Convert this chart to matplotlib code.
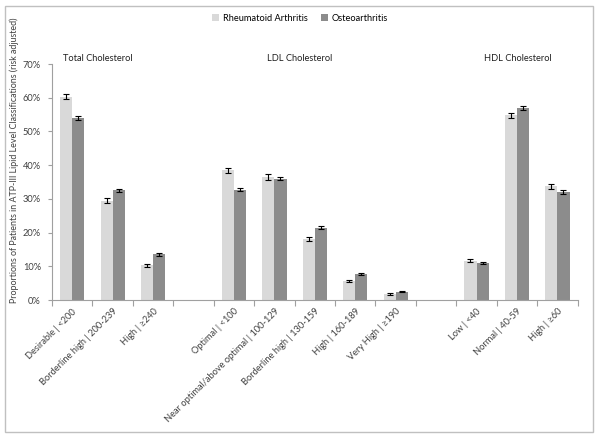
import matplotlib
matplotlib.use("Agg")
import matplotlib.pyplot as plt
import numpy as np
from matplotlib.patches import Rectangle

categories = ["Desirable | <200", "Borderline high | 200-239", "High | ≥240", "",
              "Optimal | <100", "Near optimal/above optimal | 100-129",
              "Borderline high | 130-159", "High | 160-189", "Very High | ≥190", "",
              "Low | <40", "Normal | 40-59", "High | ≥60"]
ra = [60.3, 29.5, 10.3, np.nan, 38.5, 36.5, 18.0, 5.6, 1.8, np.nan, 11.7, 54.8, 33.7]
oa = [54.0, 32.5, 13.6, np.nan, 32.7, 36.0, 21.5, 7.6, 2.5, np.nan, 11.0, 57.0, 32.0]
ra_err = [0.8, 0.7, 0.5, 0, 0.7, 0.8, 0.6, 0.4, 0.3, 0, 0.5, 0.8, 0.7]
oa_err = [0.5, 0.5, 0.4, 0, 0.5, 0.5, 0.5, 0.3, 0.2, 0, 0.4, 0.5, 0.5]
groups = ["Total Cholesterol", "LDL Cholesterol", "HDL Cholesterol"]
group_pos = [0.64, 5.63, 11.02]

plt.rcParams["font.family"] = ["Lato", "DejaVu Sans"]
fs = 6.7
fig = plt.figure(figsize=(6, 4.37), dpi=100)
ax = fig.add_axes([0.0867, 0.3135, 0.876, 0.54])

x = np.arange(len(categories))
w = 0.3
ek = dict(ecolor="black", elinewidth=0.8, capsize=2, capthick=0.8)
ax.bar(x - w / 2, ra, w, yerr=ra_err, color="#d9d9d9", label="Rheumatoid Arthritis", error_kw=ek)
ax.bar(x + w / 2, oa, w, yerr=oa_err, color="#8c8c8c", label="Osteoarthritis", error_kw=ek)

ax.set_xlim(-0.5, len(categories) - 0.5)
ax.set_ylim(0, 70)
ax.set_yticks(np.arange(0, 71, 10))
ax.set_yticklabels([f"{v}%" for v in range(0, 71, 10)], fontsize=fs, color="#404040")
ax.set_xticks(np.arange(-0.5, len(categories), 1))
ax.set_xticklabels([])
ax.set_xticks(x, minor=True)
ax.set_xticklabels(categories, minor=True, rotation=45, ha="right", rotation_mode="anchor",
                   fontsize=fs, color="#404040")
ax.tick_params(axis="x", which="minor", length=0, pad=5)
ax.tick_params(axis="x", which="major", length=4, color="#a0a0a0")
ax.tick_params(axis="y", length=3, color="#a0a0a0", pad=5)
for s in ["top", "right"]:
    ax.spines[s].set_visible(False)
for s in ["left", "bottom"]:
    ax.spines[s].set_color("#a0a0a0")
    ax.spines[s].set_linewidth(0.8)

for g, p in zip(groups, group_pos):
    ax.text(p, 70.3, g, ha="center", va="bottom", fontsize=fs, color="#202020")

fig.text(14 / 600, 1 - 160 / 437,
         "Proportions of Patients in ATP-III Lipid Level Classifications (risk adjusted)",
         rotation=90, ha="center", va="center", fontsize=6.4, color="#404040")

fig.legend(loc="upper center", bbox_to_anchor=(0.5, 0.988), ncol=2, frameon=False,
           fontsize=fs, handlelength=0.7, handleheight=0.7, columnspacing=1.5, handletextpad=0.4)

fig.patches.append(Rectangle((0.008, 0.012), 0.98, 0.975, transform=fig.transFigure,
                             fill=False, edgecolor="#c0c0c0", linewidth=1))

fig.savefig("out.png", dpi=100)
